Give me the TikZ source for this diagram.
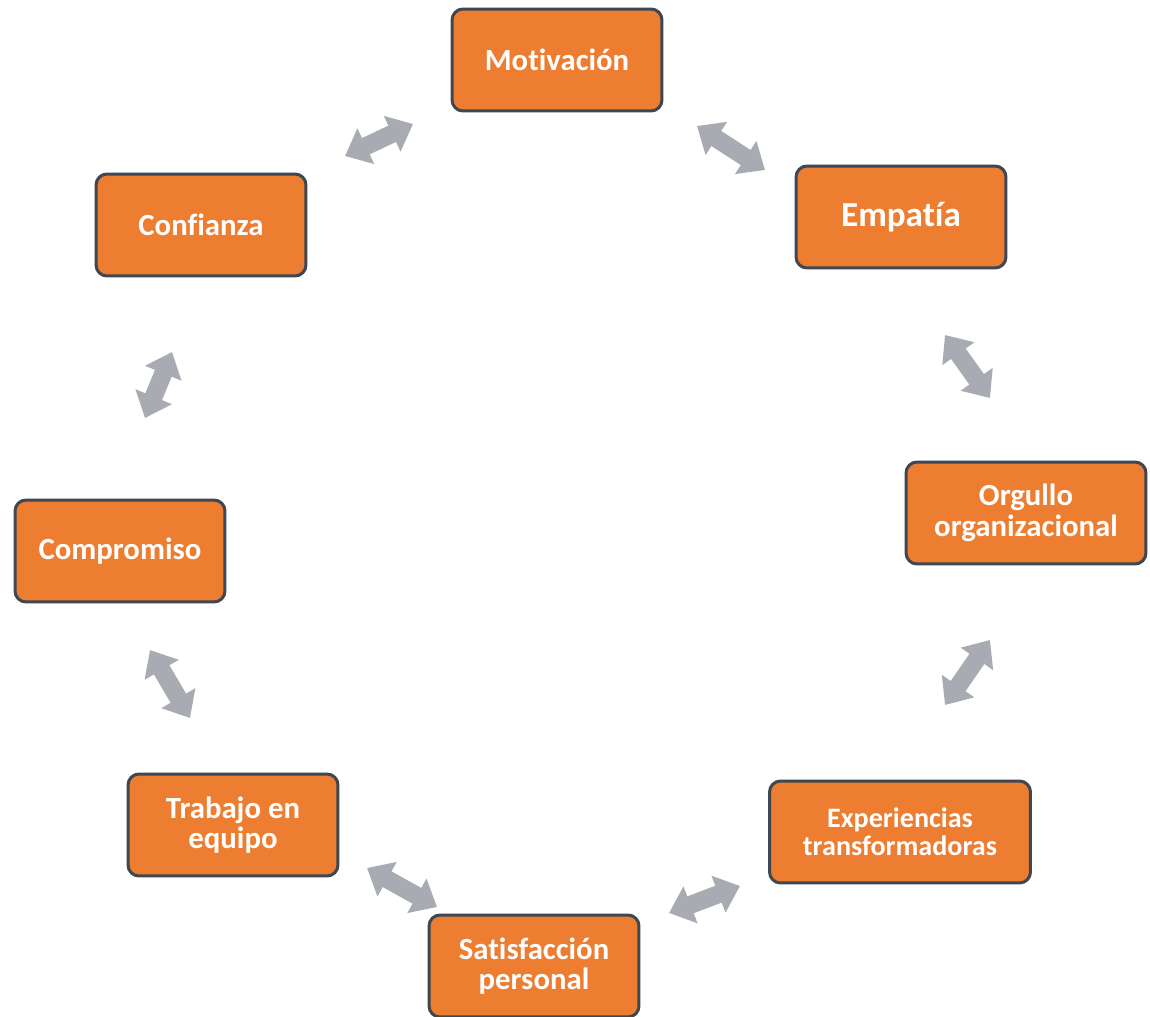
\documentclass[tikz,border=0pt]{standalone}
\usepackage{fontspec}
\setmainfont{Carlito}[Ligatures=NoCommon]
\usetikzlibrary{arrows.meta,calc}
\definecolor{boxorange}{HTML}{ED7D31}
\definecolor{boxline}{HTML}{3F4752}
\definecolor{arrgray}{HTML}{A8ABB2}
\begin{document}
\begin{tikzpicture}[x=0.02cm,y=-0.02cm,
 box/.style={draw=boxline, line width=0.06cm, fill=boxorange, rounded corners=0.22cm, text=white,
   font=\bfseries\fontsize{17.5}{17.5}\selectfont, align=center, minimum width=4.2cm, minimum height=2.04cm, inner sep=0pt},
 dbl/.style={draw=arrgray, line width=0.36cm,
   {Triangle[length=0.46cm,width=0.76cm]}-{Triangle[length=0.46cm,width=0.76cm]}}]
\fill[white] (0,0) rectangle (1150,1017);
\useasboundingbox (0,0) rectangle (1150,1017);

\node[box] (mot) at (557,60) {Motivación};
\node[box, font=\bfseries\fontsize{20}{22}\selectfont] (emp) at (901,217) {Empatía};
\node[box, minimum width=4.8cm] (org) at (1026,513) {Orgullo\\organizacional};
\node[box, minimum width=5.22cm, font=\bfseries\fontsize{16}{16}\selectfont] (exp) at (900,832) {Experiencias\\transformadoras};
\node[box] (sat) at (534,966) {Satisfacción\\personal};
\node[box] (tra) at (233,825) {Trabajo en\\equipo};
\node[box] (com) at (120,551) {Compromiso};
\node[box] (con) at (201,225) {Confianza};

\draw[dbl] ($(mot)+(-144,64)$) -- ($(con)+(144,-69)$);
\draw[dbl] ($(mot)+(140,66)$) -- ($(emp)+(-136,-47)$);
\draw[dbl] ($(emp)+(44,118)$) -- ($(org)+(-36,-115)$);
\draw[dbl] ($(org)+(-36,127)$) -- ($(exp)+(45,-127)$);
\draw[dbl] ($(exp)+(-160,54)$) -- ($(sat)+(135,-53)$);
\draw[dbl] ($(sat)+(-97,-59)$) -- ($(tra)+(134,43)$);
\draw[dbl] ($(tra)+(-43,-107)$) -- ($(com)+(30,99)$);
\draw[dbl] ($(com)+(25,-133)$) -- ($(con)+(-29,127)$);
\end{tikzpicture}
\end{document}
